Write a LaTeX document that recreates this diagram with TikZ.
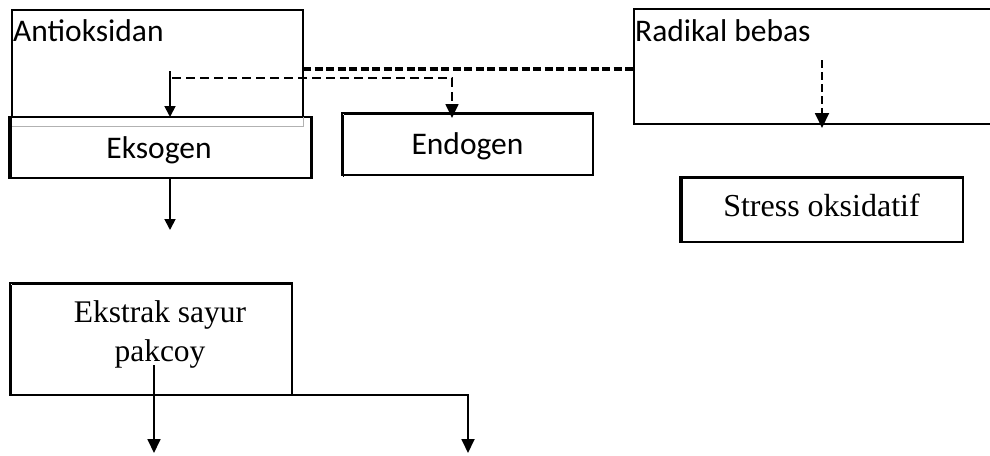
\documentclass[tikz,border=0pt]{standalone}
\usepackage{fontspec}
\setmainfont{Liberation Serif}
\newfontfamily\calib{Carlito}
\usetikzlibrary{arrows.meta,calc}
\begin{document}
\begin{tikzpicture}[x=1pt,y=-1pt,
  box/.style={draw, line width=2.8pt, rectangle, inner sep=0pt, outer sep=0pt, anchor=north west},
  cal/.style={font=\calib\fontsize{31.5}{35}\selectfont},
  tms/.style={font=\fontsize{32}{39}\selectfont},
  tmsb/.style={font=\fontsize{31.5}{39}\selectfont},
  arr/.style={line width=1.8pt, -{Triangle[width=13pt,length=14pt]}},
  arrs/.style={line width=1.8pt, -{Triangle[width=11pt,length=11pt]}},
  thindash/.style={line width=1.7pt, dash pattern=on 9pt off 5pt, -{Triangle[width=13pt,length=14pt]}},
  thickdash/.style={line width=3.5pt, dash pattern=on 8pt off 3.5pt},
  vdash/.style={line width=1.9pt, dash pattern=on 8pt off 4pt, -{Triangle[width=14pt,length=15pt]}},
  edge/.style={line width=1.8pt}]
\useasboundingbox (0,0) rectangle (990,455);
\clip (0,0) rectangle (990,455);

% boxes
\node[box, minimum width=291pt, minimum height=107pt] (anti) at (12,10) {};
\node[box, minimum width=302pt, minimum height=61pt, cal, text height=22pt, text depth=1pt, xshift=-1.5pt] (eks) at (11,117) {\hspace*{-3pt}Eksogen};
\node[box, minimum width=251pt, minimum height=62pt, cal, text height=22pt, text depth=2pt] (endo) at (342,113) {Endogen};
\node[box, minimum width=370pt, minimum height=115pt] (radikal) at (634,9) {};
\node[box, minimum width=283pt, minimum height=65pt, tms, text height=14pt, text depth=1pt] (stress) at (680,177) {Stress oksidatif};
\node[box, minimum width=282pt, minimum height=112pt] (ekstrak) at (10,283) {};

% extra thick edges
\draw[gray!60, line width=1pt] ([shift={(1,9)}]eks.north west) -- ([shift={(294,9)}]eks.north west) -- ([shift={(294,0)}]eks.north west);
\draw[edge] ([xshift=1.5pt]eks.north west) -- ([xshift=1.5pt]eks.south west);
\draw[edge] ([shift={(1.5,1.5)}]endo.north west) -- ([shift={(1.5,1.5)}]endo.south west);
\draw[edge] ([shift={(1.5,1.5)}]endo.north west) -- ([shift={(0,1.5)}]endo.north east);
\draw[edge] ([shift={(2,1)}]stress.north west) -- ([shift={(2,0)}]stress.south west);
\draw[edge] ([shift={(2,1)}]stress.north west) -- ([shift={(0,1)}]stress.north east);
\draw[edge] ([shift={(1.5,1.5)}]ekstrak.north west) -- ([shift={(1.5,0)}]ekstrak.south west);
\draw[edge] ([shift={(1.5,1.5)}]ekstrak.north west) -- ([shift={(0,1.5)}]ekstrak.north east);

% texts
\node[cal, anchor=base west, inner sep=0pt] (antitext) at (13,41.5) {Antioksidan};
\node[cal, anchor=base west, inner sep=0pt] (radtext) at (635,41.5) {Radikal bebas};
\node[tmsb, align=center, anchor=north, inner sep=0pt] (ekstext) at (160,300) {Ekstrak sayur\\pakcoy};

% connector points
\coordinate (a1) at (170,71);
\coordinate (a2) at (172,78);
\coordinate (a3) at (452,78);
\coordinate (dl) at (470,69);
\coordinate (r1) at (822,60);
\coordinate (e2) at (170,230);
\coordinate (p1) at (154,365);
\coordinate (t1) at (154,453);
\coordinate (t2) at (468,453);

% connectors
\draw[thickdash] (anti.east |- dl) -- (radikal.west |- dl);
\draw[arrs] (a1) -- (a1 |- eks.north);
\draw[thindash] (a2) -- (a3) -- ([yshift=-5pt]a3 |- endo.north);
\draw[vdash] (r1) -- ([yshift=-4pt]r1 |- radikal.south);
\draw[arrs] (e2 |- eks.south) -- (e2);
\draw[arr] (p1) -- (t1);
\draw[arr] (p1 |- ekstrak.south) -- (t2 |- ekstrak.south) -- (t2);
\end{tikzpicture}
\end{document}
